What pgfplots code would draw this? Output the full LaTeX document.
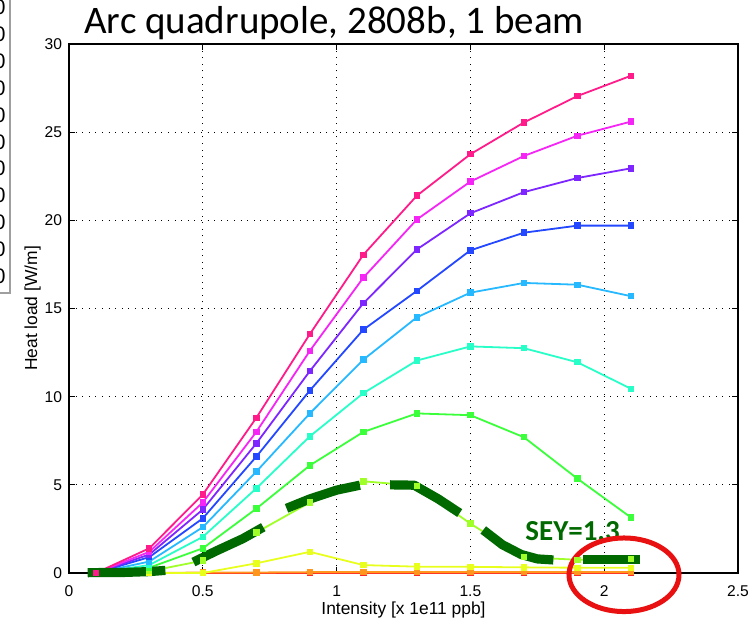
\documentclass[border=0pt]{standalone}
\usepackage{fontspec}
\setmainfont{Liberation Sans}
\newfontfamily\calibri{Carlito}
\usepackage{pgfplots}
\pgfplotsset{compat=1.18}
\definecolor{cPink}{RGB}{255,28,138}
\definecolor{cMag}{RGB}{245,38,245}
\definecolor{cVio}{RGB}{125,38,255}
\definecolor{cBlue}{RGB}{35,72,255}
\definecolor{cSky}{RGB}{38,185,255}
\definecolor{cAqua}{RGB}{40,255,200}
\definecolor{cGreen}{RGB}{60,255,60}
\definecolor{cLime}{RGB}{160,255,40}
\definecolor{cYel}{RGB}{232,255,30}
\definecolor{cOra}{RGB}{255,150,30}
\definecolor{cRed}{RGB}{255,40,40}
\definecolor{dGreen}{RGB}{0,105,0}
\definecolor{ellRed}{RGB}{232,16,16}
\begin{document}
\begin{tikzpicture}
\useasboundingbox (-34.5pt,-22.5pt) rectangle (343pt,286.5pt);
\begin{axis}[
  at={(0pt,0pt)}, anchor=south west,
  scale only axis, width=334.5pt, height=264.5pt,
  xmin=0, xmax=2.5, ymin=0, ymax=30,
  xtick={0,0.5,1,1.5,2,2.5}, ytick={0,5,10,15,20,25,30},
  xticklabels={0,0.5,1,1.5,2,2.5},
  tick pos=both, tick align=inside, major tick length=3.2pt,
  grid=major,
  grid style={black, line width=0.5pt, dash pattern=on 0.5pt off 2.8pt},
  axis line style={line width=0.7pt},
  every tick/.style={black, line width=0.6pt},
  tick label style={font=\fontsize{7.8}{9}\selectfont},
  /pgf/number format/assume math mode=true,
  xticklabel style={yshift=-3pt},
  xlabel={Intensity [x 1e11 ppb]}, ylabel={Heat load [W/m]},
  label style={font=\fontsize{8.7}{10}\selectfont},
  xlabel style={at={(axis description cs:0.5,-0.0779)}, anchor=base},
  ylabel style={at={(axis description cs:-0.0478,0.5)}, anchor=base},
  clip=false,
  every axis plot/.append style={line width=0.9pt, mark=square*, mark size=1.15pt},
]
% red
\addplot[cRed, mark options={fill=cRed}] coordinates {(0.1,0) (0.3,0) (0.5,0) (0.7,0) (0.9,0) (1.1,0) (1.3,0) (1.5,0) (1.7,0) (1.9,0) (2.1,0)};
% orange
\addplot[cOra, mark options={fill=cOra}] coordinates {(0.1,0) (0.3,0) (0.5,0.03) (0.7,0.03) (0.9,0.05) (1.1,0.05) (1.3,0.05) (1.5,0.05) (1.7,0.05) (1.9,0.05) (2.1,0.05)};
% yellow
\addplot[cYel, mark options={fill=cYel}] coordinates {(0.1,0) (0.3,0) (0.5,0) (0.7,0.55) (0.9,1.2) (1.1,0.45) (1.3,0.36) (1.5,0.35) (1.7,0.32) (1.9,0.3) (2.1,0.3)};
% lime
\addplot[cLime, mark options={fill=cLime}] coordinates {(0.1,0) (0.3,0.1) (0.5,0.7) (0.7,2.3) (0.9,4.0) (1.1,5.2) (1.3,4.95) (1.5,2.8) (1.7,0.9) (1.9,0.75) (2.1,0.8)};
% green
\addplot[cGreen, mark options={fill=cGreen}] coordinates {(0.1,0) (0.3,0.3) (0.5,1.4) (0.7,3.65) (0.9,6.1) (1.1,8.0) (1.3,9.05) (1.5,8.95) (1.7,7.7) (1.9,5.35) (2.1,3.15)};
% aquamarine
\addplot[cAqua, mark options={fill=cAqua}] coordinates {(0.1,0) (0.3,0.45) (0.5,2.05) (0.7,4.8) (0.9,7.75) (1.1,10.2) (1.3,12.05) (1.5,12.85) (1.7,12.75) (1.9,11.95) (2.1,10.45)};
% sky blue
\addplot[cSky, mark options={fill=cSky}] coordinates {(0.1,0) (0.3,0.65) (0.5,2.6) (0.7,5.75) (0.9,9.05) (1.1,12.1) (1.3,14.5) (1.5,15.9) (1.7,16.45) (1.9,16.35) (2.1,15.7)};
% blue
\addplot[cBlue, mark options={fill=cBlue}] coordinates {(0.1,0) (0.3,0.9) (0.5,3.1) (0.7,6.6) (0.9,10.35) (1.1,13.8) (1.3,16.0) (1.5,18.3) (1.7,19.3) (1.9,19.7) (2.1,19.7)};
% violet
\addplot[cVio, mark options={fill=cVio}] coordinates {(0.1,0) (0.3,1.05) (0.5,3.6) (0.7,7.35) (0.9,11.45) (1.1,15.3) (1.3,18.35) (1.5,20.4) (1.7,21.6) (1.9,22.4) (2.1,22.95)};
% magenta
\addplot[cMag, mark options={fill=cMag}] coordinates {(0.1,0) (0.3,1.2) (0.5,4.0) (0.7,8.0) (0.9,12.6) (1.1,16.75) (1.3,20.05) (1.5,22.2) (1.7,23.65) (1.9,24.8) (2.1,25.6)};
% pink
\addplot[cPink, mark options={fill=cPink}] coordinates {(0.1,0) (0.3,1.4) (0.5,4.45) (0.7,8.8) (0.9,13.55) (1.1,18.05) (1.3,21.4) (1.5,23.75) (1.7,25.55) (1.9,27.05) (2.1,28.2)};
% thick dark green highlight segments along SEY=1.3 curve
\pgfplotsset{hl/.style={dGreen, line width=4.6pt, no markers, line cap=butt, line join=round}}
\addplot[hl] coordinates {(0.07,0.02) (0.2,0.03) (0.3,0.08) (0.36,0.15)};
\addplot[hl] coordinates {(0.465,0.62) (0.55,1.25) (0.65,1.95) (0.726,2.6)};
\addplot[hl] coordinates {(0.813,3.67) (0.9,4.2) (1.0,4.7) (1.087,4.98)};
\addplot[hl] coordinates {(1.2,5.0) (1.29,4.98) (1.38,4.2) (1.46,3.4)};
\addplot[hl] coordinates {(1.548,2.44) (1.62,1.6) (1.69,1.05) (1.75,0.8) (1.81,0.74)};
\addplot[hl] coordinates {(1.922,0.78) (2.134,0.78)};
\node[anchor=base west, inner sep=0pt, text=dGreen, font=\calibri\bfseries\fontsize{14.5}{16}\selectfont] at (axis cs:1.704,1.83) {SEY=1.3};
\draw[ellRed, line width=2.5pt] (axis cs:2.074,-0.1) ellipse [x radius=27.5pt, y radius=18.4pt];
\end{axis}
% title
\node[anchor=base west, inner sep=0pt, font=\calibri\fontsize{19.5}{22}\selectfont] at (7.5pt,270pt) {Arc quadrupole, 2808b, 1 beam};
% cropped legend box from the slide, at the left edge
\draw[gray!75, line width=1pt] (-29.7pt,290pt) -- (-29.7pt,140pt) -- (-40pt,140pt);
\foreach \k in {0,...,10} {
  \node[anchor=east, inner sep=0pt, font=\fontsize{10.5}{12}\selectfont] at (-31.5pt,{282.85pt-13.45pt*\k}) {0};
}
\end{tikzpicture}
\end{document}
